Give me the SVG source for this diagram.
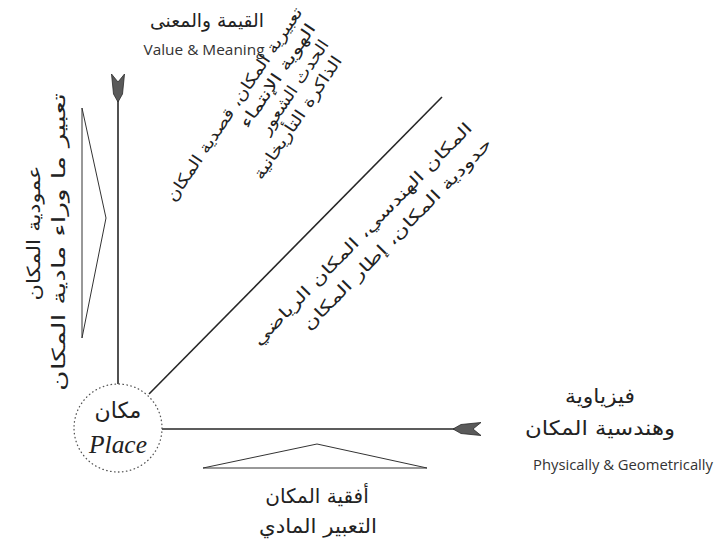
<svg xmlns="http://www.w3.org/2000/svg" width="718" height="542" viewBox="0 0 718 542">
<defs>
<style>
.ar{font-family:"DejaVu Sans",sans-serif;fill:#222;}
.en{font-family:"Open Sans","DejaVu Sans",sans-serif;fill:#333;}
.ln{stroke:#262626;stroke-width:1.6;fill:none;}
.tri{stroke:#333;stroke-width:1;fill:none;}
.fl{fill:#5a5a5a;stroke:#2a2a2a;stroke-width:0.8;}
</style>
<path id="fletch" d="M0,0 L8,-4.5 L28,-6.5 L20,0 L28,6.5 L8,4.5 Z"/>
</defs>
<rect width="718" height="542" fill="#fff"/>

<g id="connectors">
<line class="ln" x1="118" y1="384" x2="118" y2="96"/>
<line class="ln" x1="162" y1="429" x2="458" y2="429"/>
<line class="ln" x1="149" y1="394" x2="442" y2="97"/>
<use href="#fletch" class="fl" transform="translate(118,102) rotate(-90)"/>
<use href="#fletch" class="fl" transform="translate(453,429)"/>
</g>

<g id="place">
<circle cx="118" cy="428" r="44" fill="none" stroke="#555" stroke-width="1.3" stroke-dasharray="0.5 3.5" stroke-linecap="round"/>
<text class="ar" x="118" y="418" text-anchor="middle" font-size="22">مكان</text>
<text x="118" y="453" text-anchor="middle" font-family="Liberation Serif,serif" font-style="italic" font-size="25" fill="#222" textLength="58" lengthAdjust="spacingAndGlyphs">Place</text>
</g>

<g id="value-meaning">
<text class="ar" x="207" y="27" text-anchor="middle" font-size="19" textLength="114" lengthAdjust="spacingAndGlyphs">القيمة والمعنى</text>
<text class="en" x="204" y="55" text-anchor="middle" font-size="15" textLength="121" lengthAdjust="spacingAndGlyphs">Value &amp; Meaning</text>
</g>

<g id="physical">
<text class="ar" x="600" y="403" text-anchor="middle" font-size="20" textLength="70" lengthAdjust="spacingAndGlyphs">فيزياوية</text>
<text class="ar" x="600" y="435" text-anchor="middle" font-size="20" textLength="150" lengthAdjust="spacingAndGlyphs">وهندسية المكان</text>
<text class="en" x="623" y="470" text-anchor="middle" font-size="14.5" textLength="180" lengthAdjust="spacingAndGlyphs">Physically &amp; Geometrically</text>
</g>

<g id="horizontal">
<polygon class="tri" points="203,468 317,444 427,468"/>
<text class="ar" x="317" y="503" text-anchor="middle" font-size="20">أفقية المكان</text>
<text class="ar" x="318" y="533" text-anchor="middle" font-size="20" textLength="118" lengthAdjust="spacingAndGlyphs">التعبير المادي</text>
</g>

<g id="vertical">
<polygon class="tri" points="82,108 106,218 82,338"/>
<text class="ar" transform="translate(40,233) rotate(-90)" text-anchor="middle" font-size="18" textLength="135" lengthAdjust="spacingAndGlyphs">عمودية المكان</text>
<text class="ar" transform="translate(65,242) rotate(-90)" text-anchor="middle" font-size="18" textLength="298" lengthAdjust="spacingAndGlyphs">تعبير ما وراء مادية المكان</text>
</g>

<g id="meaning-diagonal" transform="translate(303,12) rotate(-56)">
<text class="ar" x="0" y="0" text-anchor="end" font-size="16" textLength="230" lengthAdjust="spacingAndGlyphs">تعبيرية المكان، قصدية المكان</text>
<text class="ar" x="-6" y="20" text-anchor="end" font-size="16" textLength="122" lengthAdjust="spacingAndGlyphs">الهوية الإنتماء</text>
<text class="ar" x="-12" y="40" text-anchor="end" font-size="16" textLength="110" lengthAdjust="spacingAndGlyphs">الحدث الشعور</text>
<text class="ar" x="-18" y="60" text-anchor="end" font-size="16" textLength="145" lengthAdjust="spacingAndGlyphs">الذاكرة التأريخانية</text>
</g>

<g id="geometric-diagonal" transform="translate(473,129) rotate(-45.5)">
<text class="ar" x="0" y="0" text-anchor="end" font-size="16" textLength="305" lengthAdjust="spacingAndGlyphs">المكان الهندسي، المكان الرياضي</text>
<text class="ar" x="3" y="25" text-anchor="end" font-size="16" textLength="262" lengthAdjust="spacingAndGlyphs">حدودية المكان، إطار المكان</text>
</g>
</svg>
